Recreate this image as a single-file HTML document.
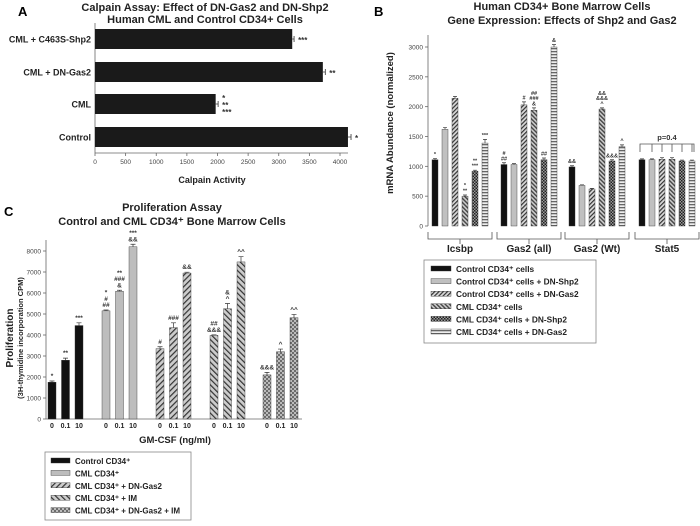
<!DOCTYPE html>
<html><head><meta charset="utf-8">
<style>
html,body{margin:0;padding:0;background:#fff;}
svg{display:block;font-family:"Liberation Sans",Arial,sans-serif;}
</style></head>
<body>
<svg id="fig" width="700" height="526" viewBox="0 0 700 526" xmlns="http://www.w3.org/2000/svg">
<defs>
  <pattern id="pFwd" width="3" height="3" patternUnits="userSpaceOnUse" patternTransform="rotate(45)">
    <rect width="3" height="3" fill="#d8d8d8"/><rect width="1.2" height="3" fill="#333"/></pattern>
  <pattern id="pBack" width="3" height="3" patternUnits="userSpaceOnUse" patternTransform="rotate(-45)">
    <rect width="3" height="3" fill="#ccc"/><rect width="1.4" height="3" fill="#444"/></pattern>
  <pattern id="pCross" width="3" height="3" patternUnits="userSpaceOnUse">
    <rect width="3" height="3" fill="#999"/><rect width="1.5" height="1.5" fill="#222"/><rect x="1.5" y="1.5" width="1.5" height="1.5" fill="#222"/></pattern>
  <pattern id="pHoriz" width="3" height="3" patternUnits="userSpaceOnUse">
    <rect width="3" height="3" fill="#eee"/><rect width="3" height="1.3" fill="#666"/></pattern>
  <pattern id="pFwdC" width="4" height="4" patternUnits="userSpaceOnUse" patternTransform="rotate(45)">
    <rect width="4" height="4" fill="#ccc"/><rect width="1.2" height="4" fill="#333"/></pattern>
  <pattern id="pBackC" width="4" height="4" patternUnits="userSpaceOnUse" patternTransform="rotate(-45)">
    <rect width="4" height="4" fill="#ccc"/><rect width="1.2" height="4" fill="#333"/></pattern>
  <pattern id="pCrossC" width="4" height="4" patternUnits="userSpaceOnUse">
    <rect width="4" height="4" fill="#bbb"/><circle cx="1" cy="1" r="0.9" fill="#333"/><circle cx="3" cy="3" r="0.9" fill="#333"/></pattern>
</defs>
<g id="A"></g>
<g id="B"></g>
<g id="C"></g>
</svg>
<script>
// ---------- Panel A data ----------
const aCategories = ["CML + C463S-Shp2", "CML + DN-Gas2", "CML", "Control"];
const aValues = [3220, 3720, 1970, 4130];
const aErrors = [30, 40, 40, 50];
const aStars = ["***", "**", "*|**|***", "*"];
const aTicks = [0, 500, 1000, 1500, 2000, 2500, 3000, 3500, 4000];

// ---------- Panel B data ----------
const bGroups = ["Icsbp", "Gas2 (all)", "Gas2 (Wt)", "Stat5"];
const bSeriesNames = ["Control CD34⁺ cells", "Control CD34⁺ cells + DN-Shp2", "Control CD34⁺ cells + DN-Gas2", "CML CD34⁺ cells", "CML CD34⁺ cells + DN-Shp2", "CML CD34⁺ cells + DN-Gas2"];
const bControl = [1110, 1030, 990, 1110];
const bControlShp2 = [1620, 1030, 680, 1110];
const bControlGas2 = [2140, 2030, 620, 1120];
const bCML = [500, 1940, 1960, 1120];
const bCMLShp2 = [920, 1110, 1090, 1090];
const bCMLGas2 = [1390, 3000, 1330, 1090];
const bErrors = [[20,30,20,15],[30,15,10,15],[30,50,10,25],[20,40,20,25],[15,30,20,15],[60,40,30,15]];
const bAnnot = [["*","#|##","&&",""],["","","",""],["","#","",""],["*|**","##|###|&","&&|&&&|^",""],["**|***","##","&&&",""],["***","&","^",""]];
const bTicks = [0, 500, 1000, 1500, 2000, 2500, 3000];

// ---------- Panel C data ----------
const cDoses = ["0", "0.1", "10"];
const cSeriesNames = ["Control CD34⁺", "CML CD34⁺", "CML CD34⁺ + DN-Gas2", "CML CD34⁺ + IM", "CML CD34⁺ + DN-Gas2 + IM"];
const cControl = [1750, 2800, 4450];
const cCML = [5150, 6080, 8200];
const cCMLGas2 = [3350, 4350, 6950];
const cCMLIM = [3980, 5250, 7480];
const cCMLGas2IM = [2100, 3200, 4820];
const cErrors = [[60,100,130],[40,50,120],[90,230,40],[30,250,250],[120,130,160]];
const cAnnot = [["*","**","***"],["*|#|##","**|###|&","***|&&"],["#","###","&&"],["##|&&&","&|^","^^"],["&&&","^","^^"]];
const cTicks = [0,1000,2000,3000,4000,5000,6000,7000,8000];

const NS = "http://www.w3.org/2000/svg";
function mk(parent, tag, attrs, text) {
  const e = document.createElementNS(NS, tag);
  for (const k in attrs) e.setAttribute(k, attrs[k]);
  if (text !== undefined) e.textContent = text;
  parent.appendChild(e);
  return e;
}
function stack(parent, x, yBottom, str, size, name) {
  const lines = str.split("|");
  for (let i = 0; i < lines.length; i++) {
    const t = mk(parent, "text", {x: x, y: yBottom - (lines.length - 1 - i) * (size * 0.95), "font-size": size, "font-weight": "bold", fill: "#333", "text-anchor": "middle"}, lines[i]);
    
    
  }
}

// ================= Panel A =================
(function(){
  const g = document.getElementById("A");
  const x0 = 95, x4000 = 340;
  const xs = v => x0 + (v / 4000) * (x4000 - x0);
  const barTop = [29, 62, 94, 127], barH = 20, axisY = 153;
  let t = mk(g, "text", {x: 18, y: 16, "font-size": 13, "font-weight": "bold"}, "A");
   
  t = mk(g, "text", {x: 205, y: 11, "font-size": 11, "font-weight": "bold", "text-anchor": "middle", fill: "#222"}, "Calpain Assay: Effect of DN-Gas2 and DN-Shp2");
   
  t = mk(g, "text", {x: 205, y: 23, "font-size": 11, "font-weight": "bold", "text-anchor": "middle", fill: "#222"}, "Human CML and Control CD34+ Cells");
   
  let l = mk(g, "line", {x1: x0, y1: 23, x2: x0, y2: axisY, stroke: "#666", "stroke-width": 0.8});
   
  l = mk(g, "line", {x1: x0, y1: axisY, x2: 348, y2: axisY, stroke: "#666", "stroke-width": 0.8});
   
  aTicks.forEach(v => {
    const tk = mk(g, "line", {x1: xs(v), y1: axisY, x2: xs(v), y2: axisY + 3, stroke: "#666", "stroke-width": 0.8});
     
    const tl = mk(g, "text", {x: xs(v), y: axisY + 11, "font-size": 6.5, "text-anchor": "middle", fill: "#444"}, v);
     
  });
  t = mk(g, "text", {x: 212, y: 183, "font-size": 9, "font-weight": "bold", "text-anchor": "middle", fill: "#222"}, "Calpain Activity");
   
  aCategories.forEach((c, i) => {
    const y = barTop[i];
    const r = mk(g, "rect", {x: x0, y: y, width: xs(aValues[i]) - x0, height: barH, fill: "#1a1a1a"});
    
    
    const ex = xs(aValues[i] + aErrors[i]);
    const e = mk(g, "path", {d: `M${xs(aValues[i])},${y+barH/2}H${ex}M${ex},${y+barH/2-3}V${y+barH/2+3}`, stroke: "#333", "stroke-width": 0.8, fill: "none"});
     
    const lb = mk(g, "text", {x: 91, y: y + barH/2 + 3.5, "font-size": 9, "font-weight": "bold", "text-anchor": "end", fill: "#222"}, c);
     
    const parts = aStars[i].split("|");
    const sy = y + barH/2 + 4 - (parts.length - 1) * 3.5;
    parts.forEach((p, j) => {
      const s = mk(g, "text", {x: ex + 4, y: sy + j * 7, "font-size": 8, "font-weight": "bold", fill: "#333"}, p);
       
    });
  });
})();

// ================= Panel B =================
(function(){
  const g = document.getElementById("B");
  const y0 = 226, y3000 = 47;
  const ys = v => y0 - (v / 3000) * (y0 - y3000);
  const axisX = 428, barW = 6, pitch = 10;
  const groupStart = [432, 501, 569, 639];
  const fills = ["#111", "#c0c0c0", "url(#pFwd)", "url(#pBack)", "url(#pCross)", "url(#pHoriz)"];
  const series = [bControl, bControlShp2, bControlGas2, bCML, bCMLShp2, bCMLGas2];
  let t = mk(g, "text", {x: 374, y: 16, "font-size": 13, "font-weight": "bold"}, "B");
   
  t = mk(g, "text", {x: 562, y: 10, "font-size": 11, "font-weight": "bold", "text-anchor": "middle", fill: "#222"}, "Human CD34+ Bone Marrow Cells");
   
  t = mk(g, "text", {x: 562, y: 24, "font-size": 11, "font-weight": "bold", "text-anchor": "middle", fill: "#222"}, "Gene Expression: Effects of Shp2 and Gas2");
   
  let l = mk(g, "line", {x1: axisX, y1: 35, x2: axisX, y2: y0, stroke: "#666", "stroke-width": 0.8});
   
  bTicks.forEach(v => {
    const tk = mk(g, "line", {x1: axisX - 3, y1: ys(v), x2: axisX, y2: ys(v), stroke: "#666", "stroke-width": 0.8});
     
    const tl = mk(g, "text", {x: axisX - 5, y: ys(v) + 2.5, "font-size": 6.5, "text-anchor": "end", fill: "#444"}, v);
     
  });
  t = mk(g, "text", {x: 0, y: 0, "font-size": 9.5, "font-weight": "bold", "text-anchor": "middle", fill: "#222", transform: "translate(393,123) rotate(-90)"}, "mRNA Abundance (normalized)");
   
  bGroups.forEach((grp, gi) => {
    const gx = groupStart[gi];
    series.forEach((s, si) => {
      const x = gx + si * pitch;
      const v = s[gi];
      const r = mk(g, "rect", {x: x, y: ys(v), width: barW, height: y0 - ys(v), fill: fills[si], stroke: "#333", "stroke-width": 0.4});
      
      
      const ey = ys(v + bErrors[si][gi]);
      const e = mk(g, "path", {d: `M${x+barW/2},${ys(v)}V${ey}M${x+1},${ey}H${x+barW-1}`, stroke: "#333", "stroke-width": 0.7, fill: "none"});
       
      if (bAnnot[si][gi]) stack(g, x + barW/2, ey - 2.5, bAnnot[si][gi], 5.5, 'significance-marker');
    });
    const x1 = gx - 4, x2 = gx + 5 * pitch + barW + 4, xm = (x1 + x2) / 2;
    const br = mk(g, "path", {d: `M${x1},${y0+6}V${y0+13}H${x2}V${y0+6}M${xm},${y0+13}V${y0+18}`, stroke: "#555", "stroke-width": 0.8, fill: "none"});
     
    const gl = mk(g, "text", {x: xm, y: 252, "font-size": 10, "font-weight": "bold", "text-anchor": "middle", fill: "#222"}, grp);
     
  });
  // p=0.4 bracket over Stat5
  const sx = groupStart[3];
  let d = `M${sx+1},152V144H${sx+5*pitch+barW-1}V152`;
  for (let i = 1; i < 6; i++) d += `M${sx + i*pitch + barW/2},144V152`;
  const pb = mk(g, "path", {d: d, stroke: "#555", "stroke-width": 0.8, fill: "none"});
   
  t = mk(g, "text", {x: sx + 28, y: 140, "font-size": 7.5, "font-weight": "bold", "text-anchor": "middle", fill: "#333"}, "p=0.4");
   
  // legend
  const lg = mk(g, "g", {});
   
  const box = mk(lg, "rect", {x: 424, y: 260, width: 172, height: 83, fill: "#fff", stroke: "#888", "stroke-width": 0.8});
   
  bSeriesNames.forEach((n, i) => {
    const y = 272 + i * 12.6;
    const sw = mk(lg, "rect", {x: 431, y: y - 6, width: 20, height: 5, fill: fills[i], stroke: "#333", "stroke-width": 0.4});
     
    const tx = mk(lg, "text", {x: 456, y: y, "font-size": 8.3, "font-weight": "bold", fill: "#222"}, n);
     
  });
})();

// ================= Panel C =================
(function(){
  const g = document.getElementById("C");
  const y0 = 419, y8000 = 251;
  const ys = v => y0 - (v / 8000) * (y0 - y8000);
  const axisX = 46, barW = 8, pitch = 13.5;
  const groupStart = [48, 102, 156, 210, 263];
  const fills = ["#111", "#bdbdbd", "url(#pFwdC)", "url(#pBackC)", "url(#pCrossC)"];
  const series = [cControl, cCML, cCMLGas2, cCMLIM, cCMLGas2IM];
  let t = mk(g, "text", {x: 4, y: 216, "font-size": 13, "font-weight": "bold"}, "C");
   
  t = mk(g, "text", {x: 172, y: 211, "font-size": 11, "font-weight": "bold", "text-anchor": "middle", fill: "#222"}, "Proliferation Assay");
   
  t = mk(g, "text", {x: 172, y: 225, "font-size": 11, "font-weight": "bold", "text-anchor": "middle", fill: "#222"}, "Control and CML CD34⁺ Bone Marrow Cells");
   
  let l = mk(g, "line", {x1: axisX, y1: 240, x2: axisX, y2: y0, stroke: "#666", "stroke-width": 0.8});
   
  l = mk(g, "line", {x1: axisX, y1: y0, x2: 302, y2: y0, stroke: "#666", "stroke-width": 0.8});
   
  cTicks.forEach(v => {
    const tk = mk(g, "line", {x1: axisX - 3, y1: ys(v), x2: axisX, y2: ys(v), stroke: "#666", "stroke-width": 0.8});
     
    const tl = mk(g, "text", {x: axisX - 5, y: ys(v) + 2.5, "font-size": 6.5, "text-anchor": "end", fill: "#444"}, v);
     
  });
  t = mk(g, "text", {x: 0, y: 0, "font-size": 10, "font-weight": "bold", "text-anchor": "middle", fill: "#222", transform: "translate(13,338) rotate(-90)"}, "Proliferation");
   
  t = mk(g, "text", {x: 0, y: 0, "font-size": 7.5, "font-weight": "bold", "text-anchor": "middle", fill: "#222", transform: "translate(23,338) rotate(-90)"}, "(3H-thymidine incorporation CPM)");
   
  series.forEach((s, si) => {
    const gx = groupStart[si];
    s.forEach((v, di) => {
      const x = gx + di * pitch;
      const r = mk(g, "rect", {x: x, y: ys(v), width: barW, height: y0 - ys(v), fill: fills[si], stroke: "#333", "stroke-width": 0.4});
      
      
      const ey = ys(v + cErrors[si][di]);
      const e = mk(g, "path", {d: `M${x+barW/2},${ys(v)}V${ey}M${x+1.5},${ey}H${x+barW-1.5}`, stroke: "#333", "stroke-width": 0.7, fill: "none"});
       
      stack(g, x + barW/2, ey - 3, cAnnot[si][di], 6.5, 'significance-marker');
      const tl = mk(g, "text", {x: x + barW/2, y: 428, "font-size": 7, "font-weight": "bold", "text-anchor": "middle", fill: "#222"}, cDoses[di]);
       
    });
  });
  t = mk(g, "text", {x: 175, y: 443, "font-size": 9.5, "font-weight": "bold", "text-anchor": "middle", fill: "#222"}, "GM-CSF (ng/ml)");
   
  const lg = mk(g, "g", {});
   
  const box = mk(lg, "rect", {x: 45, y: 452, width: 146, height: 68, fill: "#fff", stroke: "#888", "stroke-width": 0.8});
   
  cSeriesNames.forEach((n, i) => {
    const y = 464 + i * 12.4;
    const sw = mk(lg, "rect", {x: 51, y: y - 6, width: 19, height: 5, fill: fills[i], stroke: "#333", "stroke-width": 0.4});
     
    const tx = mk(lg, "text", {x: 75, y: y, "font-size": 8, "font-weight": "bold", fill: "#222"}, n);
     
  });
})();
</script>
</body></html>
